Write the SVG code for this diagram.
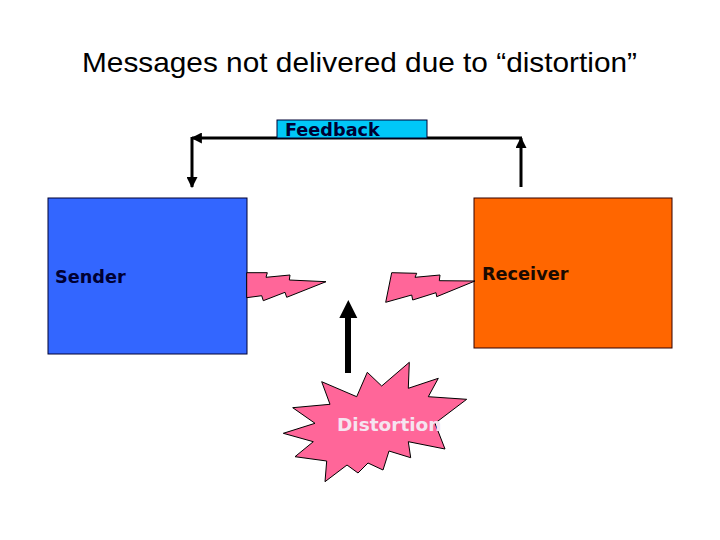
<svg xmlns="http://www.w3.org/2000/svg" width="720" height="540" viewBox="0 0 720 540">
<style>
.lbl{font-family:"DejaVu Sans",Verdana,sans-serif;font-weight:bold;font-size:17.7px}
.pink{fill:#FF6699;stroke:#000;stroke-width:1;stroke-linejoin:miter}
.fb{stroke:#000;stroke-width:3;fill:none}
</style>
<defs>
<marker id="ah" viewBox="0 0 10 10" refX="9" refY="5" markerWidth="11" markerHeight="11" markerUnits="userSpaceOnUse" orient="auto">
<path d="M0,0 L10,5 L0,10 z" fill="#000"/>
</marker>
</defs>
<rect width="720" height="540" fill="#fff"/>
<text x="82" y="72" font-family="Liberation Sans, Arial, sans-serif" font-size="28" textLength="555" lengthAdjust="spacingAndGlyphs" fill="#000">Messages not delivered due to “distortion”</text>

<g id="connectors">
<line class="fb" x1="521" y1="187" x2="521" y2="138" marker-end="url(#ah)"/>
<line class="fb" x1="522" y1="138" x2="192" y2="138" marker-end="url(#ah)"/>
<line class="fb" x1="192" y1="137" x2="192" y2="187" marker-end="url(#ah)"/>
<g id="distortion-arrow">
<rect x="345" y="317" width="6" height="56" fill="#000"/>
<path d="M348.3,300 L357.3,318 L339.3,318 z" fill="#000"/>
</g>
</g>

<g id="feedback">
<rect x="277" y="120" width="150" height="18" fill="#00C8F8" stroke="#000033" stroke-width="1"/>
<text class="lbl" x="285" y="136" fill="#000033">Feedback</text>
</g>

<g id="sender">
<rect x="48" y="198" width="199" height="156" fill="#3366FF" stroke="#000033" stroke-width="1"/>
<text class="lbl" x="55" y="283" fill="#000033">Sender</text>
</g>

<g id="receiver">
<rect x="474" y="198" width="198" height="150" fill="#FF6600" stroke="#330000" stroke-width="1"/>
<text class="lbl" x="482" y="280" fill="#1A0A00">Receiver</text>
</g>

<g id="bolt-left">
<polygon class="pink" points="246.7,272.7 267.3,272.7 266,277.3 290,275 289.3,280 326,281.7 286.7,297.3 285,292.3 263.3,300.7 261.7,295.7 246.7,297.7"/>
</g>
<g id="bolt-right">
<polygon class="pink" points="391.7,272.7 416.7,273.3 415,277.3 440,275 439.3,280.7 475,281 436.7,296.7 436,292.7 412.7,300 411.7,295 385.7,302.3"/>
</g>

<g id="distortion">
<polygon class="pink" points="409.3,362.3 408.3,388.3 438.3,378.3 428.3,396.7 466.7,399.3 435,423.3 445,449 408.3,441.7 410.7,457.7 389,451 383,470 368,463 358,473 347,465 325,481.7 326.7,461 295,456.7 313.3,441.7 283.3,433.3 315,423.3 292.7,407.7 330,404.3 321.7,381.7 356.7,396.7 367.3,372.3 381.7,386"/>
<text class="lbl" x="337" y="431" fill="#F5E4F0" style="font-size:18.5px">Distortion</text>
</g>
</svg>
